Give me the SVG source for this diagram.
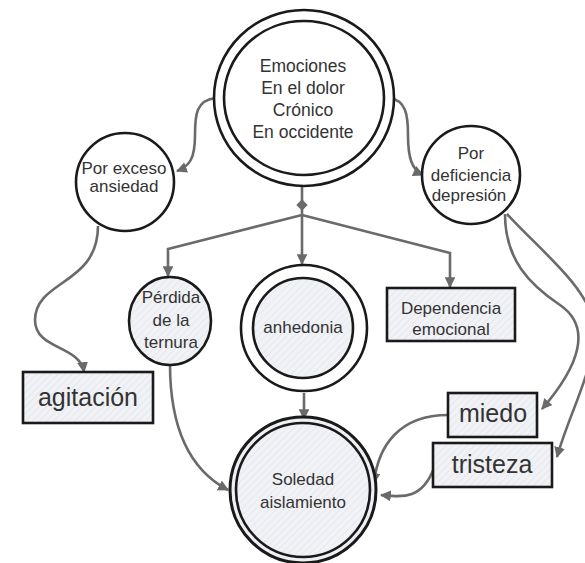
<svg xmlns="http://www.w3.org/2000/svg" width="585" height="563" viewBox="0 0 585 563">
<defs>
<pattern id="hatch" width="5" height="5" patternUnits="userSpaceOnUse" patternTransform="rotate(45)">
<rect width="5" height="5" fill="#f1f2f6"/>
<line x1="0" y1="0" x2="0" y2="5" stroke="#e3e5ec" stroke-width="1.5"/>
</pattern>
<marker id="arr" viewBox="0 0 10 10" refX="9" refY="5" markerWidth="4.2" markerHeight="4.2" orient="auto" markerUnits="strokeWidth">
<path d="M0,0 L10,5 L0,10 Z" fill="#6a6a6a"/>
</marker>
<style>
.n{stroke:#1a1a1a;stroke-width:2.6;fill:#fff}
.h{stroke:#1a1a1a;stroke-width:2.6;fill:url(#hatch)}
.c{fill:none;stroke:#6a6a6a;stroke-width:2.6;marker-end:url(#arr)}
.cn{fill:none;stroke:#6a6a6a;stroke-width:2.6}
text{font-family:"Liberation Sans",Arial,sans-serif;fill:#333;text-anchor:middle}
.t17{font-size:17.5px}
.t16{font-size:17px}
.t24{font-size:25px}
</style>
</defs>
<rect width="585" height="563" fill="#fff"/>

<g id="connectors">
<path class="cn" d="M302,187 L302,215"/>
<rect x="298" y="201" width="8" height="8" fill="#6a6a6a" transform="rotate(45 302 205)"/>
<path class="c" d="M302,215 L168,249 L168,276"/>
<path class="c" d="M302,215 L302,264"/>
<path class="c" d="M302,215 L450,253 L450,287"/>
<path class="c" d="M216,98 C196,100 195,115 195,135 C195,158 190,166 177,171"/>
<path class="c" d="M389,98 C406,100 408,115 408,135 C408,158 412,170 423,175"/>
<path class="c" d="M98,226 C98,285 35,280 35,320 C35,350 80,345 84,372"/>
<path class="c" d="M170,364 C170,430 190,470 228,490"/>
<path class="c" d="M304,393 L304,419"/>
<path class="c" d="M505,214 C505,260 530,285 560,305 C592,327 580,365 542,409"/>
<path class="c" d="M507,214 C540,250 585,285 593,320 C600,360 570,410 557,457"/>
<path class="c" d="M448,415 C400,415 378,445 374,483"/>
<path class="c" d="M434,468 C422,500 402,497 381,495"/>
</g>

<g id="emociones">
<ellipse class="n" cx="304" cy="98" rx="90" ry="88"/>
<ellipse class="n" cx="304" cy="98" rx="80" ry="77"/>
<text class="t17" x="303" y="72">Emociones</text>
<text class="t17" x="303" y="94">En el dolor</text>
<text class="t17" x="303" y="116">Crónico</text>
<text class="t17" x="303" y="138">En occidente</text>
</g>

<g id="ansiedad">
<circle class="n" cx="125" cy="182" r="49"/>
<text class="t16" x="124" y="174">Por exceso</text>
<text class="t16" x="124" y="192">ansiedad</text>
</g>

<g id="depresion">
<circle class="n" cx="471" cy="175" r="49"/>
<text class="t16" x="471" y="159">Por</text>
<text class="t16" x="471" y="181">deficiencia</text>
<text class="t16" x="469" y="201">depresión</text>
</g>

<g id="perdida">
<ellipse class="h" cx="170" cy="321" rx="41" ry="44"/>
<text class="t16" x="171" y="303">Pérdida</text>
<text class="t16" x="171" y="326">de la</text>
<text class="t16" x="171" y="348">ternura</text>
</g>

<g id="anhedonia">
<circle class="n" cx="304" cy="328" r="63"/>
<circle class="h" cx="303" cy="328" r="50"/>
<text class="t16" x="303" y="333">anhedonia</text>
</g>

<g id="dependencia">
<rect class="h" x="387" y="288" width="128" height="53"/>
<text class="t16" x="451" y="314">Dependencia</text>
<text class="t16" x="451" y="335">emocional</text>
</g>

<g id="agitacion">
<rect class="h" x="23" y="372" width="130" height="51"/>
<text class="t24" x="88" y="406">agitación</text>
</g>

<g id="miedo">
<rect class="h" x="448" y="393" width="89" height="44"/>
<text class="t24" x="493" y="422">miedo</text>
</g>

<g id="tristeza">
<rect class="h" x="433" y="443" width="119" height="44"/>
<text class="t24" x="492" y="473">tristeza</text>
</g>

<g id="soledad">
<circle cx="303" cy="490" r="73" fill="url(#hatch)" stroke="#1a1a1a" stroke-width="3"/>
<circle cx="303" cy="490" r="67" fill="none" stroke="#1a1a1a" stroke-width="2.6"/>
<text class="t16" x="303" y="485">Soledad</text>
<text class="t16" x="303" y="508">aislamiento</text>
</g>
</svg>
